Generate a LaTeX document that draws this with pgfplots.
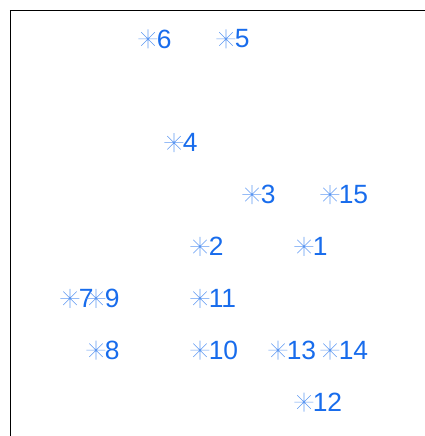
\documentclass[border=0pt]{standalone}
\usepackage{fontspec}
\setmainfont{Liberation Sans}
\usepackage{pgfplots}
\pgfplotsset{compat=1.18}
\definecolor{ptblue}{RGB}{24,108,236}

% eight-armed asterisk: a plus and a cross on top of each other
\pgfdeclareplotmark{ast8}{%
  \pgfpathmoveto{\pgfqpoint{-\pgfplotmarksize}{0pt}}%
  \pgfpathlineto{\pgfqpoint{\pgfplotmarksize}{0pt}}%
  \pgfpathmoveto{\pgfqpoint{0pt}{-\pgfplotmarksize}}%
  \pgfpathlineto{\pgfqpoint{0pt}{\pgfplotmarksize}}%
  \pgfpathmoveto{\pgfqpoint{-0.7071\pgfplotmarksize}{-0.7071\pgfplotmarksize}}%
  \pgfpathlineto{\pgfqpoint{0.7071\pgfplotmarksize}{0.7071\pgfplotmarksize}}%
  \pgfpathmoveto{\pgfqpoint{-0.7071\pgfplotmarksize}{0.7071\pgfplotmarksize}}%
  \pgfpathlineto{\pgfqpoint{0.7071\pgfplotmarksize}{-0.7071\pgfplotmarksize}}%
  \pgfusepathqstroke
}

\begin{document}
\begin{tikzpicture}
\begin{axis}[
  scale only axis,
  width=415bp, height=426bp,
  xmin=-2.3077, xmax=13.654,
  ymin=-0.6538, ymax=7.5577,
  axis x line*=top, axis y line*=left,
  axis line style={-, line width=0.9bp, black},
  xtick=\empty, ytick=\empty,
  clip=false,
]
\addplot[
  only marks, mark=ast8, mark size=9.5bp,
  mark options={ptblue!70, line width=0.55bp},
  nodes near coords, point meta=explicit symbolic,
  every node near coord/.style={anchor=west, inner sep=0pt, xshift=8.5bp,
    text=ptblue, font=\fontsize{26.5}{31}\selectfont},
] table[meta=label] {
x  y label
9  3 1
5  3 2
7  4 3
4  5 4
6  7 5
3  7 6
0  2 7
1  1 8
1  2 9
5  1 10
5  2 11
9  0 12
8  1 13
10 1 14
10 4 15
};
\coordinate (tl) at (rel axis cs:0,1);
\coordinate (br) at (rel axis cs:1,0);
\end{axis}
\pgfresetboundingbox
\path ([shift={(-10bp,10bp)}]tl) rectangle (br);
\end{tikzpicture}
\end{document}
